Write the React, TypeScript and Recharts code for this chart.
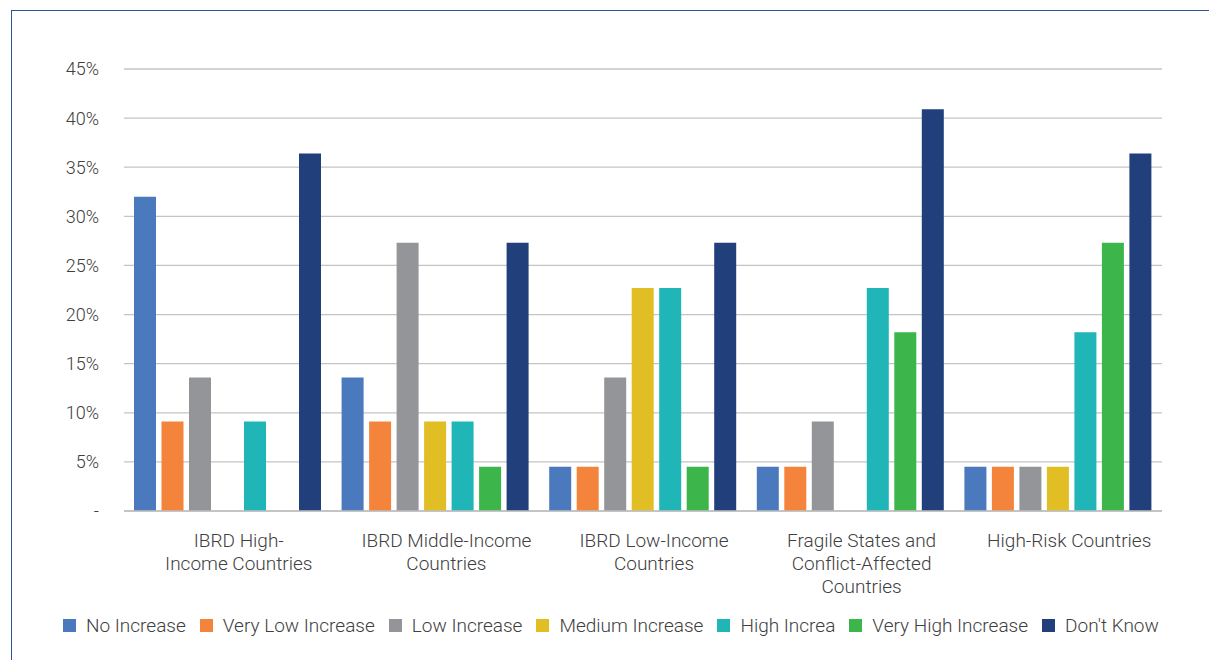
import { BarChart, Bar, XAxis, YAxis, CartesianGrid } from 'recharts'

const categories = [
  ['IBRD High-', 'Income Countries'],
  ['IBRD Middle-Income', 'Countries'],
  ['IBRD Low-Income', 'Countries'],
  ['Fragile States and', 'Conflict-Affected', 'Countries'],
  ['High-Risk Countries'],
]

const seriesNames = [
  'No Increase',
  'Very Low Increase',
  'Low Increase',
  'Medium Increase',
  'High Increa',
  'Very High Increase',
  "Don't Know",
]

const seriesColors = ['#4A7ABD', '#F4843B', '#949598', '#E0BE24', '#20B5B6', '#3CB54A', '#213F7A']

// share of respondents per category, in percent
const noIncrease = [32.0, 13.6, 4.5, 4.5, 4.5]
const veryLowIncrease = [9.1, 9.1, 4.5, 4.5, 4.5]
const lowIncrease = [13.6, 27.3, 13.6, 9.1, 4.5]
const mediumIncrease = [0, 9.1, 22.7, 0, 4.5]
const highIncrease = [9.1, 9.1, 22.7, 22.7, 18.2]
const veryHighIncrease = [0, 4.5, 4.5, 18.2, 27.3]
const dontKnow = [36.4, 27.3, 27.3, 40.9, 36.4]

const yTicks = [0, 5, 10, 15, 20, 25, 30, 35, 40, 45]

const seriesValues = [
  noIncrease,
  veryLowIncrease,
  lowIncrease,
  mediumIncrease,
  highIncrease,
  veryHighIncrease,
  dontKnow,
]

const data = categories.map((lines, i) => {
  const row: Record<string, any> = { name: lines.join(' ') }
  seriesNames.forEach((s, k) => {
    row[s] = seriesValues[k][i]
  })
  return row
})

const FONT = 'Roboto, "Noto Sans", sans-serif'
const TEXT = '#404040'

function CategoryTick(props: any) {
  const { x, y, index } = props
  const lines = categories[index] || []
  return (
    <text
      x={x + 11}
      y={y + 28}
      textAnchor="middle"
      fill={TEXT}
      fontSize={19}
      fontWeight={300}
      fontFamily={FONT}
    >
      {lines.map((l, i) => (
        <tspan key={i} x={x + 11} dy={i === 0 ? 0 : 23}>
          {l}
        </tspan>
      ))}
    </text>
  )
}

export default function App() {
  return (
    <div
      style={{
        position: 'absolute',
        left: 0,
        top: 0,
        width: 1209,
        height: 660,
        background: '#fff',
        overflow: 'hidden',
        fontFamily: FONT,
      }}
    >
      <div
        style={{
          position: 'absolute',
          left: 11,
          top: 10,
          right: 0,
          bottom: 0,
          borderTop: '1.5px solid #2E5496',
          borderLeft: '1.5px solid #2E5496',
        }}
      />
      <div style={{ position: 'absolute', left: 0, top: 0 }}>
        <BarChart
          width={1209}
          height={600}
          data={data}
          margin={{ top: 69, right: 47, left: 0, bottom: 0 }}
          barSize={22}
          barGap={5.5}
        >
          <CartesianGrid vertical={false} stroke="#C4C4C4" strokeWidth={1.3} />
          <XAxis
            dataKey="name"
            height={89}
            tickLine={false}
            axisLine={{ stroke: '#BFBFBF', strokeWidth: 1.5 }}
            interval={0}
            tick={<CategoryTick />}
          />
          <YAxis
            width={124}
            domain={[0, 45]}
            ticks={yTicks}
            axisLine={false}
            tickLine={false}
            tickMargin={19}
            tickFormatter={(v: number) => (v === 0 ? '-' : `${v}%`)}
            tick={{ fill: TEXT, fontSize: 18, fontWeight: 300, fontFamily: FONT }}
          />
          {seriesNames.map((s, k) => (
            <Bar key={s} dataKey={s} fill={seriesColors[k]} isAnimationActive={false} />
          ))}
        </BarChart>
      </div>
      <div
        style={{
          position: 'absolute',
          left: 63,
          top: 614,
          display: 'flex',
          alignItems: 'center',
          whiteSpace: 'nowrap',
          fontSize: 19,
          fontWeight: 300,
          color: TEXT,
        }}
      >
        {seriesNames.map((s, k) => (
          <div key={s} style={{ display: 'flex', alignItems: 'center', marginRight: 14 }}>
            <span
              style={{
                display: 'inline-block',
                width: 13,
                height: 13,
                background: seriesColors[k],
                marginRight: 10,
              }}
            />
            <span>{s}</span>
          </div>
        ))}
      </div>
    </div>
  )
}
